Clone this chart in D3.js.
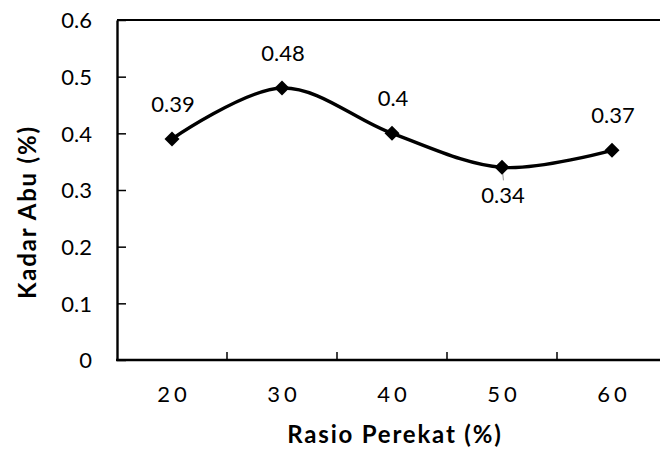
<!DOCTYPE html>
<html>
<head>
<meta charset="utf-8">
<script src="https://cdn.jsdelivr.net/npm/d3@7"></script>
<style>
  html, body { margin: 0; padding: 0; background: #fff; }
  svg { display: block; }
  text { font-family: Lato, "Noto Sans", sans-serif; fill: #000; }
</style>
</head>
<body>
<svg id="chart" width="660" height="450"></svg>
<script>
// ---- data ----
const categories = ["20", "30", "40", "50", "60"];
const values = [0.39, 0.48, 0.4, 0.34, 0.37];
const valueLabels = ["0.39", "0.48", "0.4", "0.34", "0.37"];
const labelSide = ["above", "above", "above", "below", "above"];
const yTicks = [0, 0.1, 0.2, 0.3, 0.4, 0.5, 0.6];
const yTickLabels = ["0", "0.1", "0.2", "0.3", "0.4", "0.5", "0.6"];
const xTitle = "Rasio Perekat (%)";
const yTitle = "Kadar Abu (%)";

// ---- layout ----
const svg = d3.select("#chart");
const plot = { left: 117, right: 667, top: 20, bottom: 360 };

const x = d3.scaleBand().domain(categories).range([plot.left, plot.right]).padding(0);
const y = d3.scaleLinear().domain([0, 0.6]).range([plot.bottom, plot.top]);
const cx = c => x(c) + x.bandwidth() / 2;

// top border of plot area
svg.append("line")
  .attr("x1", plot.left).attr("x2", plot.right)
  .attr("y1", plot.top).attr("y2", plot.top)
  .attr("stroke", "#000").attr("stroke-width", 1.8);

// y axis
const yAxis = d3.axisLeft(y)
  .tickValues(yTicks)
  .tickFormat((d, i) => yTickLabels[i])
  .tickSizeInner(-9)
  .tickSizeOuter(0)
  .tickPadding(25);
const gy = svg.append("g").attr("transform", `translate(${plot.left},0)`).call(yAxis);
gy.select(".domain").attr("stroke", "#000").attr("stroke-width", 2.4);
gy.selectAll(".tick line").attr("stroke", "#000").attr("stroke-width", 1.5);
gy.selectAll(".tick text")
  .attr("font-size", 22).attr("dy", "0.36em").attr("font-family", "Lato")
  .style("fill", "#000");

// x axis (category axis with ticks between categories)
const xAxis = d3.axisBottom(x).tickSize(0).tickSizeOuter(0).tickPadding(0);
const gx = svg.append("g").attr("transform", `translate(0,${plot.bottom})`).call(xAxis);
gx.select(".domain").attr("stroke", "#000").attr("stroke-width", 2.6)
  .attr("d", `M${plot.left - 1},0H${plot.right}`);
gx.selectAll(".tick text")
  .attr("y", 34).attr("dy", "0.36em").attr("dx", 2)
  .attr("font-size", 22).attr("font-family", "Lato")
  .style("letter-spacing", "4px").style("fill", "#000");
gx.selectAll(".tickmark")
  .data(categories.slice(1))
  .join("line")
  .attr("class", "tickmark")
  .attr("x1", d => x(d)).attr("x2", d => x(d))
  .attr("y1", 0).attr("y2", -8)
  .attr("stroke", "#000").attr("stroke-width", 1.5);

// line
const line = d3.line()
  .x((d, i) => cx(categories[i]))
  .y(d => y(d))
  .curve(d3.curveCatmullRom.alpha(0));
svg.append("path")
  .datum(values)
  .attr("d", line)
  .attr("fill", "none")
  .attr("stroke", "#000")
  .attr("stroke-width", 3.4)
  .attr("stroke-linejoin", "round");

// leader line for label placed below
svg.selectAll(".leader")
  .data(values.map((v, i) => ({ v, i })).filter(d => labelSide[d.i] === "below"))
  .join("line")
  .attr("class", "leader")
  .attr("x1", d => cx(categories[d.i]))
  .attr("x2", d => cx(categories[d.i]) + 1.5)
  .attr("y1", d => y(d.v))
  .attr("y2", d => y(d.v) + 13)
  .attr("stroke", "#a6a6a6").attr("stroke-width", 1.2);

// markers (diamonds)
const diamond = "M0,-7.5L7.5,0L0,7.5L-7.5,0Z";
svg.selectAll(".marker")
  .data(values)
  .join("path")
  .attr("class", "marker")
  .attr("d", diamond)
  .attr("transform", (d, i) => `translate(${cx(categories[i])},${y(d)})`)
  .attr("fill", "#000");

// data labels
svg.selectAll(".dlabel")
  .data(values)
  .join("text")
  .attr("class", "dlabel")
  .attr("x", (d, i) => cx(categories[i]) + 1)
  .attr("y", (d, i) => y(d) + (labelSide[i] === "above" ? -35 : 28))
  .attr("dy", "0.36em")
  .attr("text-anchor", "middle")
  .attr("font-size", 22)
  .text((d, i) => valueLabels[i]);

// axis titles
svg.append("text")
  .attr("x", 394)
  .attr("y", 434)
  .attr("dx", 0.9)
  .attr("dy", "0.36em")
  .attr("text-anchor", "middle")
  .attr("font-size", 24)
  .attr("font-weight", "bold")
  .style("letter-spacing", "1.8px")
  .text(xTitle);

svg.append("text")
  .attr("transform", "translate(36,213) rotate(-90)")
  .attr("dx", 0.9)
  .attr("text-anchor", "middle")
  .attr("font-size", 24)
  .attr("font-weight", "bold")
  .style("letter-spacing", "1.8px")
  .text(yTitle);
</script>
</body>
</html>
